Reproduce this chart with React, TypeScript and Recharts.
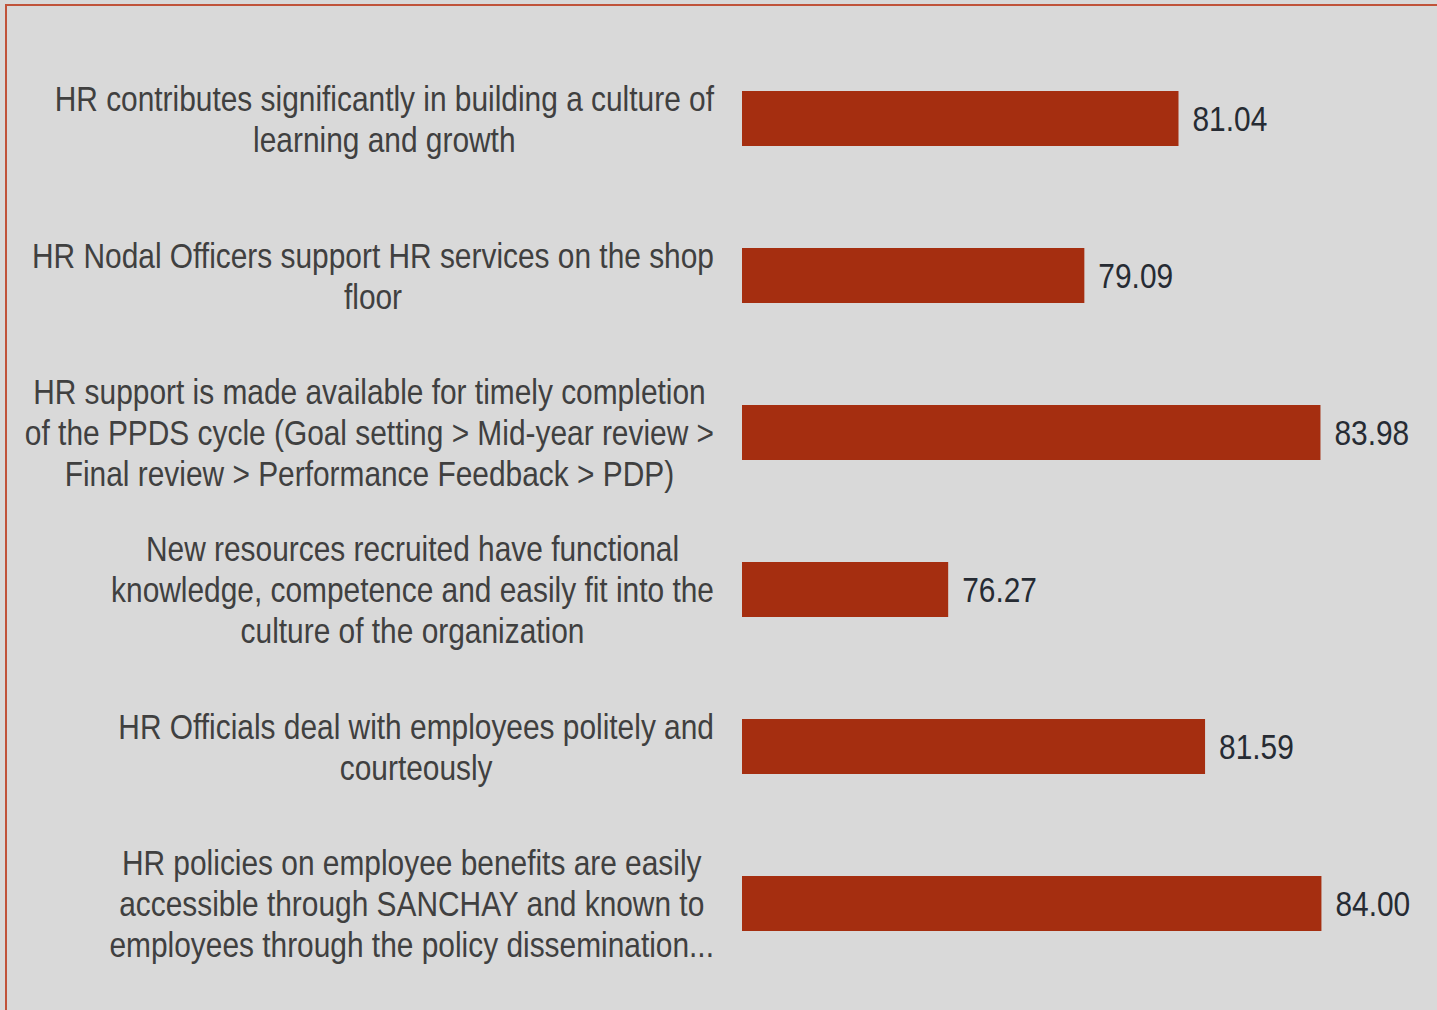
import React from "react";
import { BarChart, Bar, XAxis, YAxis, LabelList } from "recharts";

const labelLines: string[][] = [
  ["HR contributes significantly in building a culture of", "learning and growth"],
  ["HR Nodal Officers support HR services on the shop", "floor"],
  [
    "HR support is made available for timely completion",
    "of the PPDS cycle (Goal setting > Mid-year review >",
    "Final review > Performance Feedback > PDP)",
  ],
  [
    "New resources recruited have functional",
    "knowledge, competence and easily fit into the",
    "culture of the organization",
  ],
  ["HR Officials deal with employees politely and", "courteously"],
  [
    "HR policies on employee benefits are easily",
    "accessible through SANCHAY and known to",
    "employees through the policy dissemination...",
  ],
];

const scores = [81.04, 79.09, 83.98, 76.27, 81.59, 84.0];

// no narrow font installed, so squeeze Liberation Sans like Arial Narrow
const FONT = "'Liberation Sans', Arial, sans-serif";
const FONT_SIZE = 36;
const SQUEEZE = 0.83;
const LINE_H = 41;

const data = labelLines.map((lines, i) => ({ name: lines.join("\n"), score: scores[i] }));

let ctx: CanvasRenderingContext2D | null = null;
const measure = (s: string) => {
  if (!ctx) ctx = document.createElement("canvas").getContext("2d");
  if (!ctx) return s.length * FONT_SIZE * 0.45 * SQUEEZE;
  ctx.font = `${FONT_SIZE}px ${FONT}`;
  return ctx.measureText(s).width * SQUEEZE;
};

const CategoryTick = ({ x, y, payload }: any) => {
  const lines = String(payload.value).split("\n");
  const widest = Math.max(...lines.map(measure));
  const cx = x - 20 - widest / 2;
  return (
    <g>
      {lines.map((line, i) => (
        <text
          key={i}
          transform={`translate(${cx},${y + (i - (lines.length - 1) / 2) * LINE_H}) scale(${SQUEEZE},1)`}
          textAnchor="middle"
          dominantBaseline="central"
          fill="#404040"
          fontSize={FONT_SIZE}
          fontFamily={FONT}
        >
          {line}
        </text>
      ))}
    </g>
  );
};

const ValueLabel = ({ x, y, width, height, value }: any) => (
  <text
    transform={`translate(${x + width + 14},${y + height / 2}) scale(${SQUEEZE},1)`}
    dominantBaseline="central"
    fill="#262b33"
    fontSize={FONT_SIZE}
    fontFamily={FONT}
  >
    {Number(value).toFixed(2)}
  </text>
);

export default function App() {
  return (
    <div style={{ position: "absolute", left: 0, top: 0, width: 1437, height: 1010, background: "#d9d9d9" }}>
      <div
        style={{
          position: "absolute",
          left: 5,
          top: 4,
          right: 0,
          bottom: 0,
          borderLeft: "2px solid #c0533a",
          borderTop: "2px solid #c0533a",
        }}
      />
      <div style={{ position: "absolute", left: 0, top: 0 }}>
        <BarChart
          width={1437}
          height={1010}
          data={data}
          layout="vertical"
          margin={{ top: 40, right: 19, bottom: 28, left: 0 }}
          barCategoryGap={51}
        >
          <XAxis type="number" domain={[72, 86]} hide allowDataOverflow />
          <YAxis
            type="category"
            dataKey="name"
            width={742}
            axisLine={false}
            tickLine={false}
            tick={<CategoryTick />}
            interval={0}
          />
          <Bar dataKey="score" fill="#a52e10" barSize={55} isAnimationActive={false}>
            <LabelList dataKey="score" content={<ValueLabel />} />
          </Bar>
        </BarChart>
      </div>
    </div>
  );
}
